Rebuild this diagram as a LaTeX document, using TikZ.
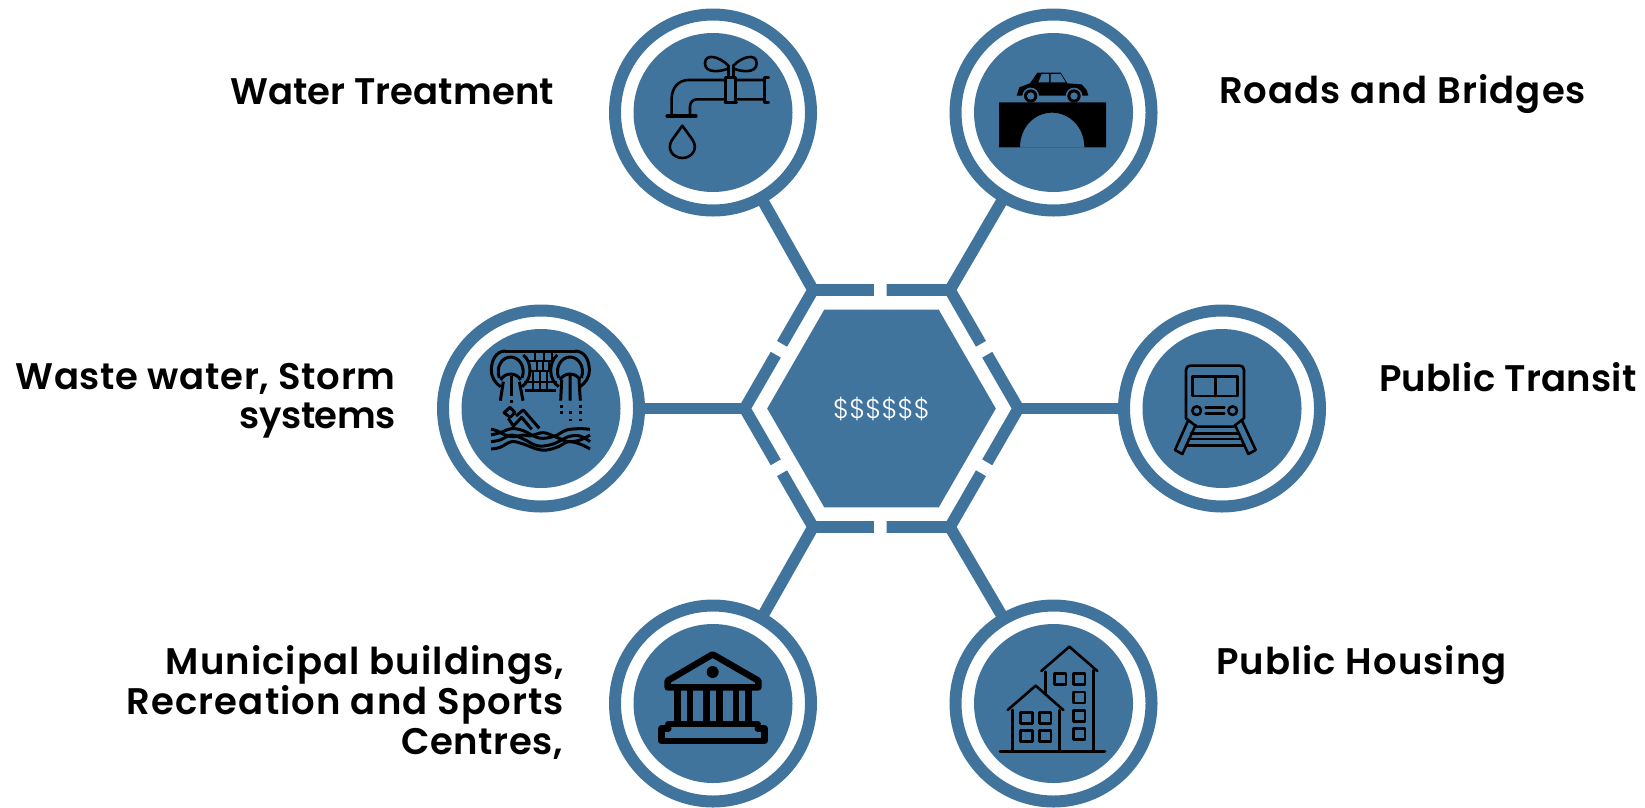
\documentclass[tikz,border=0pt]{standalone}
\usepackage{fontspec}
\usetikzlibrary{shapes.geometric,calc}
\setmainfont{Poppins}
\newfontfamily\lblfont{Poppins SemiBold}
\newfontfamily\hubfont{Poppins Light}
\newcommand{\spc}[1]{\addfontfeature{LetterSpace=#1}}
\definecolor{steel}{HTML}{41749D}
\tikzset{
  ring/.style={circle,draw=steel,line width=12pt,minimum size=196pt,inner sep=0pt,outer sep=0pt},
  disc/.style={circle,fill=steel,minimum size=159pt,inner sep=0pt,outer sep=0pt},
  band/.style={draw=steel,line width=11.6pt,line cap=butt,miter limit=10},
  hubnode/.style={regular polygon,regular polygon sides=6,fill=steel,minimum size=228.6pt,inner sep=0pt,outer sep=0pt,text=white,font=\hubfont\fontsize{27}{27}\selectfont},
  lbl/.style={inner sep=0pt,outer sep=0pt,align=right,font=\lblfont\fontsize{37}{40}\selectfont},
  ico/.style={draw=black,line width=2.6pt,line cap=round,line join=round},
  wave ico/.style={draw=black,line width=3pt,line cap=butt,line join=round},
  thin ico/.style={draw=black,line width=2.2pt,line cap=butt,line join=round},
  fat ico/.style={draw=black,line width=6.5pt,line cap=round,line join=round},
}
\begin{document}
\begin{tikzpicture}[x=1pt,y=-1pt]
\useasboundingbox (0,0) rectangle (1645,807);
% hexagon ring corners
\coordinate (vTL) at (813.1,290);
\coordinate (vTR) at (949.9,290);
\coordinate (vR) at (1018.3,408.5);
\coordinate (vBR) at (949.9,527);
\coordinate (vBL) at (813.1,527);
\coordinate (vL) at (744.7,408.5);
% hub
\node[hubnode] (hub) at (881.5,408.5) {\$\$\$\$\$\$};
% rings and discs
\foreach \n/\x/\y in {a/713/112.5,b/1053.5/112.5,c/541/408.5,d/1222/408.5,e/713/703.5,f/1053.5/703.5}{
  \node[ring] (r\n) at (\x,\y) {};
  \node[disc] (d\n) at (\x,\y) {};
}
% hexagon segments
\draw[band] ($(vTL)!.445!(vTR)$) -- (vTL) -- ($(vTL)!.454!(vL)$);
\draw[band] ($(vTL)!.538!(vTR)$) -- (vTR) -- ($(vTR)!.454!(vR)$);
\draw[band] ($(vTR)!.546!(vR)$) -- (vR) -- ($(vR)!.454!(vBR)$);
\draw[band] ($(vR)!.546!(vBR)$) -- (vBR) -- ($(vBL)!.538!(vBR)$);
\draw[band] ($(vBL)!.445!(vBR)$) -- (vBL) -- ($(vBL)!.454!(vL)$);
\draw[band] ($(vBL)!.546!(vL)$) -- (vL) -- ($(vTL)!.546!(vL)$);
% connectors
\draw[band] (vTL) -- (ra);
\draw[band] (vTR) -- (rb);
\draw[band] (vL) -- (rc);
\draw[band] (vR) -- (rd);
\draw[band] (vBL) -- (re);
\draw[band] (vBR) -- (rf);
% labels
\node[lbl,anchor=base east] (l1) at (554,104) {\spc{0.2}Water Treatment};
\node[lbl,anchor=base west] (l2) at (1219,103.5) {\spc{2.9}Roads and Bridges};
\node[lbl,anchor=base east] (l3a) at (395.5,389) {\spc{1.8}Waste water, Storm};
\node[lbl,anchor=base east] (l3b) at (395.5,428) {\spc{-1.5}systems};
\node[lbl,anchor=base west] (l4) at (1379,391.5) {\spc{0.8}Public Transit};
\node[lbl,anchor=base east] (l5a) at (564,674) {\spc{2.9}Municipal buildings,};
\node[lbl,anchor=base east] (l5b) at (564,714) {\spc{3.0}Recreation and Sports};
\node[lbl,anchor=base east] (l5c) at (562.5,754) {\spc{1.4}Centres,};
\node[lbl,anchor=base west] (l6) at (1216,674) {\spc{2.8}Public Housing};
% tap icon
\begin{scope}[shift={(580,0)},scale=1/3]
\draw[ico] (445,197) .. controls (420,170) and (375,158) .. (375,190) .. controls (375,222) and (425,215) .. (445,205);
\draw[ico] (460,197) .. controls (485,170) and (530,158) .. (530,190) .. controls (530,222) and (480,215) .. (460,205);
\draw[ico] (445,197) -- (445,232) (460,197) -- (460,232);
\draw[ico] (437,232) rectangle (467,308);
\draw[ico] (435,308) -- (470,308);
\draw[ico] (553,240) -- (467,240) (437,240) -- (325,240) .. controls (295,240) and (275,265) .. (275,295) -- (275,345);
\draw[ico] (553,298) -- (467,298) (437,298) -- (350,298) .. controls (338,298) and (330,308) .. (330,320) -- (330,345);
\draw[ico] (553,232) -- (553,307) (553,232) -- (566,232) (553,307) -- (566,307);
\draw[ico,line width=3.2pt] (261,348) -- (348,348);
\draw[ico] (307,377) -- (276,420) .. controls (258,448) and (280,474) .. (307,474) .. controls (334,474) and (356,448) .. (338,420) -- cycle;
\end{scope}
% bridge icon
\begin{scope}[shift={(900,0)},scale=1/3]
\fill[black] (350,287) -- (358,262) -- (390,250) -- (412,218) -- (482,218) -- (502,250) -- (545,253) -- (560,270) -- (565,287) -- cycle;
\fill[steel] (415,247) -- (425,222) -- (447,222) -- (447,247) -- cycle;
\fill[steel] (452,222) -- (482,222) -- (497,247) -- (452,247) -- cycle;
\foreach \wx in {392,522}{
  \fill[steel] (\wx,288) circle (25);
  \fill[black] (\wx,288) circle (20);
  \fill[steel] (\wx,288) circle (11);
}
\fill[black,even odd rule] (297,307) rectangle (618,442) (360,442) .. controls (360,380) and (405,338) .. (456,338) .. controls (507,338) and (553,380) .. (553,442) -- cycle;
\end{scope}
% waste water icon
\begin{scope}[shift={(480,340)},scale=1/3]
% brick wall
\draw[wave ico] (75,33) -- (287,33);
\draw[wave ico] (135,152) -- (227,152);
\draw[thin ico] (140,62) -- (222,62) (148,92) -- (214,92) (132,125) -- (230,125);
\draw[thin ico] (165,33) -- (165,62) (192,33) -- (192,62) (217,33) -- (217,62);
\draw[thin ico] (172,62) -- (172,92) (190,62) -- (190,92) (207,62) -- (207,92);
\draw[thin ico] (160,92) -- (160,125) (181,92) -- (181,125) (202,92) -- (202,125);
\draw[thin ico] (160,125) -- (160,152) (181,125) -- (181,152) (202,125) -- (202,152);
% culverts
\foreach \cx/\s in {92/1,270/-1}{
  \begin{scope}[shift={(\cx,92)},xscale=\s]
  \draw[wave ico] (-15,-59) .. controls (-45,-59) and (-58,-30) .. (-58,-2) .. controls (-58,22) and (-45,38) .. (-30,48);
  \draw[wave ico] (34,48) .. controls (48,38) and (58,20) .. (58,0) .. controls (58,-20) and (50,-38) .. (38,-47);
  \draw[wave ico] (-34,22) .. controls (-46,-12) and (-25,-41) .. (0,-41) .. controls (25,-41) and (46,-12) .. (34,22);
  \draw[wave ico] (-30,28) .. controls (-18,4) and (18,4) .. (30,28);
  \end{scope}
}
\draw[wave ico] (70,125) -- (61,182) (118,125) -- (129,182);
\draw[wave ico] (95,107) -- (95,168) (95,180) -- (95,190);
\draw[wave ico] (245,120) -- (242,182) (270,105) -- (270,182) (297,120) -- (301,182);
\foreach \px/\py in {243/200,243/218,270/218,270/240,300/200,300/218,300/240}{\draw[wave ico] (\px,\py-4) -- (\px,\py+4);}
% swimmer
\draw[wave ico] (72,218) -- (90,202) -- (105,218) -- (90,232) -- cycle;
\draw[wave ico] (85,235) -- (100,258) -- (125,232) -- (155,268);
\draw[wave ico] (108,228) -- (130,210) -- (178,265);
% waves
\draw[wave ico] plot[smooth,tension=.6] coordinates {(33,285) (60,278) (95,266) (130,272) (165,290) (190,295) (225,288) (260,270) (300,266) (330,268)};
\draw[wave ico] plot[smooth,tension=.6] coordinates {(33,268) (50,272) (75,285) (100,290) (130,285) (150,288) (190,278) (230,292) (265,305) (300,300) (330,285)};
\draw[wave ico] plot[smooth,tension=.6] coordinates {(33,305) (60,300) (95,285) (130,297) (165,315) (190,318) (225,310) (265,290) (300,288) (330,305)};
\draw[wave ico] plot[smooth,tension=.6] coordinates {(33,327) (60,322) (95,305) (130,312) (170,327) (200,330) (235,320) (265,305) (300,312) (330,327)};
\end{scope}
% train icon
\begin{scope}[shift={(1060,285)},scale=1/3]
\draw[ico] (378,400) -- (378,255) .. controls (378,247) and (383,242) .. (390,242) -- (540,242) .. controls (547,242) and (552,247) .. (552,255) -- (552,400) -- (520,425) -- (410,425) -- cycle;
\draw[ico] (398,275) rectangle (532,333) (466,275) -- (466,333);
\draw[ico] (410,377) circle (13) (518,377) circle (13);
\draw[ico] (437,367) -- (493,367) (437,385) -- (493,385);
\draw[ico] (385,405) -- (345,495) -- (367,507) -- (407,420);
\draw[ico] (525,420) -- (565,507) -- (587,495) -- (545,405);
\draw[ico] (393,445) -- (537,445) (386,462) -- (544,462) (378,482) -- (552,482);
\end{scope}
% municipal icon
\begin{scope}[shift={(575,565)},scale=1/3]
\draw[fat ico] (413,268) -- (278,347) -- (278,367) -- (550,367) -- (550,347) -- cycle;
\fill[black] (413,321) circle (18);
\foreach \bx in {308,345,395,433,483,520}{\fill[black] (\bx-10,367) rectangle (\bx+10,475);}
\draw[fat ico] (280,477) -- (548,477);
\draw[fat ico] (280,490) -- (260,490) -- (260,528) -- (568,528) -- (568,490) -- (548,490);
\end{scope}
% housing icon
\begin{scope}[shift={(900,565)},scale=1/3]
\draw[ico] (300,560) -- (615,560);
\draw[ico] (337,435) -- (337,560) (478,435) -- (478,560);
\draw[ico] (323,435) -- (407,362) -- (490,435);
\draw[ico] (437,320) -- (437,385) (580,315) -- (580,560);
\draw[ico] (424,318) -- (508,245) -- (592,318);
\foreach \wx/\wy in {362/443,418/443,362/497,418/497,463/326,520/326,520/381,520/436,520/490}{
  \draw[ico] (\wx,\wy) rectangle (\wx+35,\wy+33);
}
\end{scope}
\end{tikzpicture}
\end{document}
